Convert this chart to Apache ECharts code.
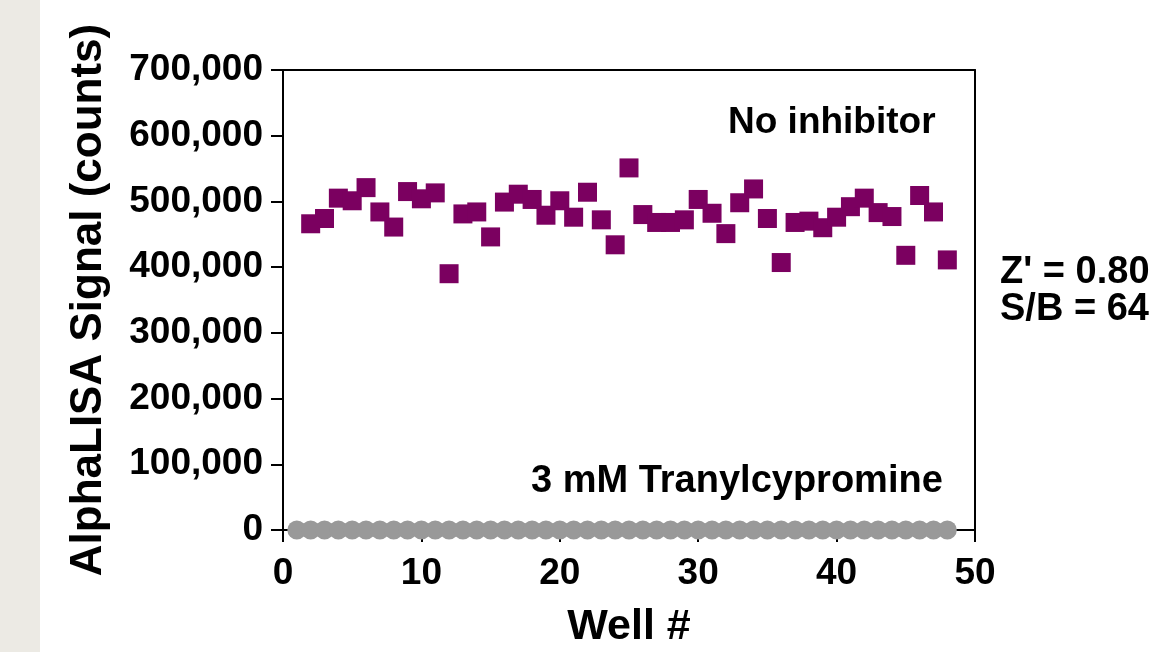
<!DOCTYPE html>
<html>
<head>
<meta charset="utf-8">
<script src="https://cdn.jsdelivr.net/npm/echarts@6/dist/echarts.min.js"></script>
<style>
html,body{margin:0;padding:0;background:#fff;}
#c{width:1150px;height:652px;}
</style>
</head>
<body>
<div id="c"></div>
<script>
// Data
const inhibitedWells = [1,2,3,4,5,6,7,8,9,10,11,12,13,14,15,16,17,18,19,20,21,22,23,24,25,26,27,28,29,30,31,32,33,34,35,36,37,38,39,40,41,42,43,44,45,46,47,48];
const inhibitedValues = [0,0,0,0,0,0,0,0,0,0,0,0,0,0,0,0,0,0,0,0,0,0,0,0,0,0,0,0,0,0,0,0,0,0,0,0,0,0,0,0,0,0,0,0,0,0,0,0];
const noInhibitorWells = [2,3,4,5,6,7,8,9,10,11,12,13,14,15,16,17,18,19,20,21,22,23,24,25,26,27,28,29,30,31,32,33,34,35,36,37,38,39,40,41,42,43,44,45,46,47,48];
const noInhibitorValues = [466000,474000,505000,501000,521000,484000,461000,515000,504000,513000,390000,481000,484000,446000,499000,511000,503000,479000,501000,476000,514000,472000,434000,551000,480000,468000,468000,472000,503000,482000,451000,498000,519000,474000,407000,468000,470000,460000,476000,492000,505000,483000,477000,418000,509000,484000,411000];
const yTicks = { min: 0, max: 700000, interval: 100000 };
const xTicks = { min: 0, max: 50, interval: 10 };
const xTitle = 'Well #';
const yTitle = 'AlphaLISA Signal (counts)';
const labelNoInhibitor = 'No inhibitor';
const labelInhibitor = '3 mM Tranylcypromine';
const statZ = "Z' = 0.80";
const statSB = 'S/B = 64';

const FONT = '"Liberation Sans", Arial, Helvetica, sans-serif';
function commas(v){ return String(v).replace(/\B(?=(\d{3})+(?!\d))/g, ','); }

const chart = echarts.init(document.getElementById('c'), null, {renderer:'canvas'});
const frameLine = {show:true, onZero:false, lineStyle:{color:'#000', width:2}};
const txt = {fontFamily:FONT, fontWeight:'bold', color:'#000'};

chart.setOption({
  animation:false,
  backgroundColor:'#fff',
  grid:{left:283, right:175, top:70, bottom:122, containLabel:false, outerBoundsMode:'none'},
  xAxis:[{
    type:'value', min:xTicks.min, max:xTicks.max, interval:xTicks.interval,
    axisLine:{show:true, onZero:false, lineStyle:{color:'#000', width:2}},
    axisTick:{show:true, inside:false, length:12, lineStyle:{color:'#000', width:2}},
    axisLabel:Object.assign({fontSize:37, margin:25}, txt),
    splitLine:{show:false},
    name:xTitle, nameLocation:'middle', nameGap:76,
    nameTextStyle:Object.assign({fontSize:43}, txt)
  },{
    type:'value', position:'top', min:xTicks.min, max:xTicks.max,
    axisLine:frameLine, axisTick:{show:false}, axisLabel:{show:false}, splitLine:{show:false}
  }],
  yAxis:[{
    type:'value', min:yTicks.min, max:yTicks.max, interval:yTicks.interval,
    axisLine:{show:true, onZero:false, lineStyle:{color:'#000', width:2}},
    axisTick:{show:true, inside:false, length:12, lineStyle:{color:'#000', width:2}},
    axisLabel:Object.assign({fontSize:37, margin:20, formatter:commas}, txt),
    splitLine:{show:false},
    name:yTitle, nameLocation:'middle', nameGap:172,
    nameTextStyle:Object.assign({fontSize:44}, txt)
  },{
    type:'value', position:'right', min:yTicks.min, max:yTicks.max,
    axisLine:frameLine, axisTick:{show:false}, axisLabel:{show:false}, splitLine:{show:false}
  }],
  series:[{
    name:labelInhibitor, type:'scatter', symbol:'circle', symbolSize:19,
    itemStyle:{color:'#999999', opacity:1},
    data:inhibitedWells.map((w,i)=>[w, inhibitedValues[i]]),
    clip:false, z:3
  },{
    name:labelNoInhibitor, type:'scatter', symbol:'rect', symbolSize:19,
    itemStyle:{color:'#7B0060', opacity:1},
    data:noInhibitorWells.map((w,i)=>[w, noInhibitorValues[i]]),
    clip:false, z:4
  }],
  graphic:[
    {type:'rect', left:0, top:0, shape:{width:40, height:652}, style:{fill:'#ECEAE4'}, z:-10},
    {type:'text', left:728, top:104, style:{text:labelNoInhibitor, font:'bold 37px '+FONT, fill:'#000'}},
    {type:'text', left:531, top:463, style:{text:labelInhibitor, font:'bold 38px '+FONT, fill:'#000'}},
    {type:'text', left:1000, top:254, style:{text:statZ, font:'bold 38px '+FONT, fill:'#000'}},
    {type:'text', left:1000, top:291, style:{text:statSB, font:'bold 38px '+FONT, fill:'#000'}}
  ]
});
</script>
</body>
</html>
